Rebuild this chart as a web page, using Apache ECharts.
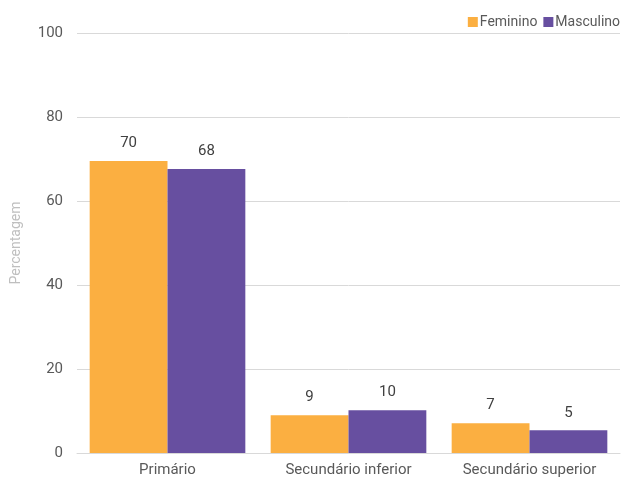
<!DOCTYPE html>
<html><head><meta charset="utf-8">
<script src="https://cdn.jsdelivr.net/npm/echarts@6/dist/echarts.min.js"></script>
<style>html,body{margin:0;padding:0;background:#fff}#c{width:627px;height:478px}</style>
</head><body><div id="c"></div>
<script>
const categories = ['Primário', 'Secundário inferior', 'Secundário superior'];
const feminino = [69.5, 9.0, 7.1];
const masculino = [67.6, 10.2, 5.4];
const yTicks = [0, 20, 40, 60, 80, 100];

const chart = echarts.init(document.getElementById('c'), null, {renderer: 'canvas'});
const font = 'Roboto, "Liberation Sans", sans-serif';
const lbl = {show: true, position: 'top', distance: 10, color: '#404040', fontSize: 15, fontFamily: font,
  formatter: p => Math.round(p.value)};
chart.setOption({
  animation: false,
  textStyle: {fontFamily: font},
  legend: {
    top: 10, right: 2, itemWidth: 10, itemHeight: 10, itemGap: 6,
    icon: 'rect',
    textStyle: {color: '#595959', fontSize: 14, fontFamily: font, padding: [0, 0, 0, -3]},
    data: ['Feminino', 'Masculino']
  },
  grid: {left: 77, right: 7, top: 33, bottom: 25},
  xAxis: {
    type: 'category', data: categories,
    axisLine: {lineStyle: {color: '#d9d9d9', width: 1}},
    axisTick: {show: false},
    axisLabel: {color: '#595959', fontSize: 15, fontFamily: font, margin: 10}
  },
  yAxis: {
    type: 'value', min: yTicks[0], max: yTicks[yTicks.length - 1], interval: 20,
    name: 'Percentagem', nameLocation: 'middle', nameGap: 54, nameRotate: 90,
    nameTextStyle: {color: '#bfbfbf', fontSize: 14, fontFamily: font},
    axisLine: {show: false}, axisTick: {show: false},
    axisLabel: {color: '#595959', fontSize: 15, fontFamily: font, margin: 14},
    splitLine: {lineStyle: {color: '#d9d9d9', width: 1}}
  },
  series: [
    {name: 'Feminino', type: 'bar', data: feminino, barGap: '0%', barCategoryGap: '14%',
     itemStyle: {color: '#FBAF41'}, label: lbl},
    {name: 'Masculino', type: 'bar', data: masculino,
     itemStyle: {color: '#674FA0'}, label: lbl}
  ]
});
</script></body></html>
